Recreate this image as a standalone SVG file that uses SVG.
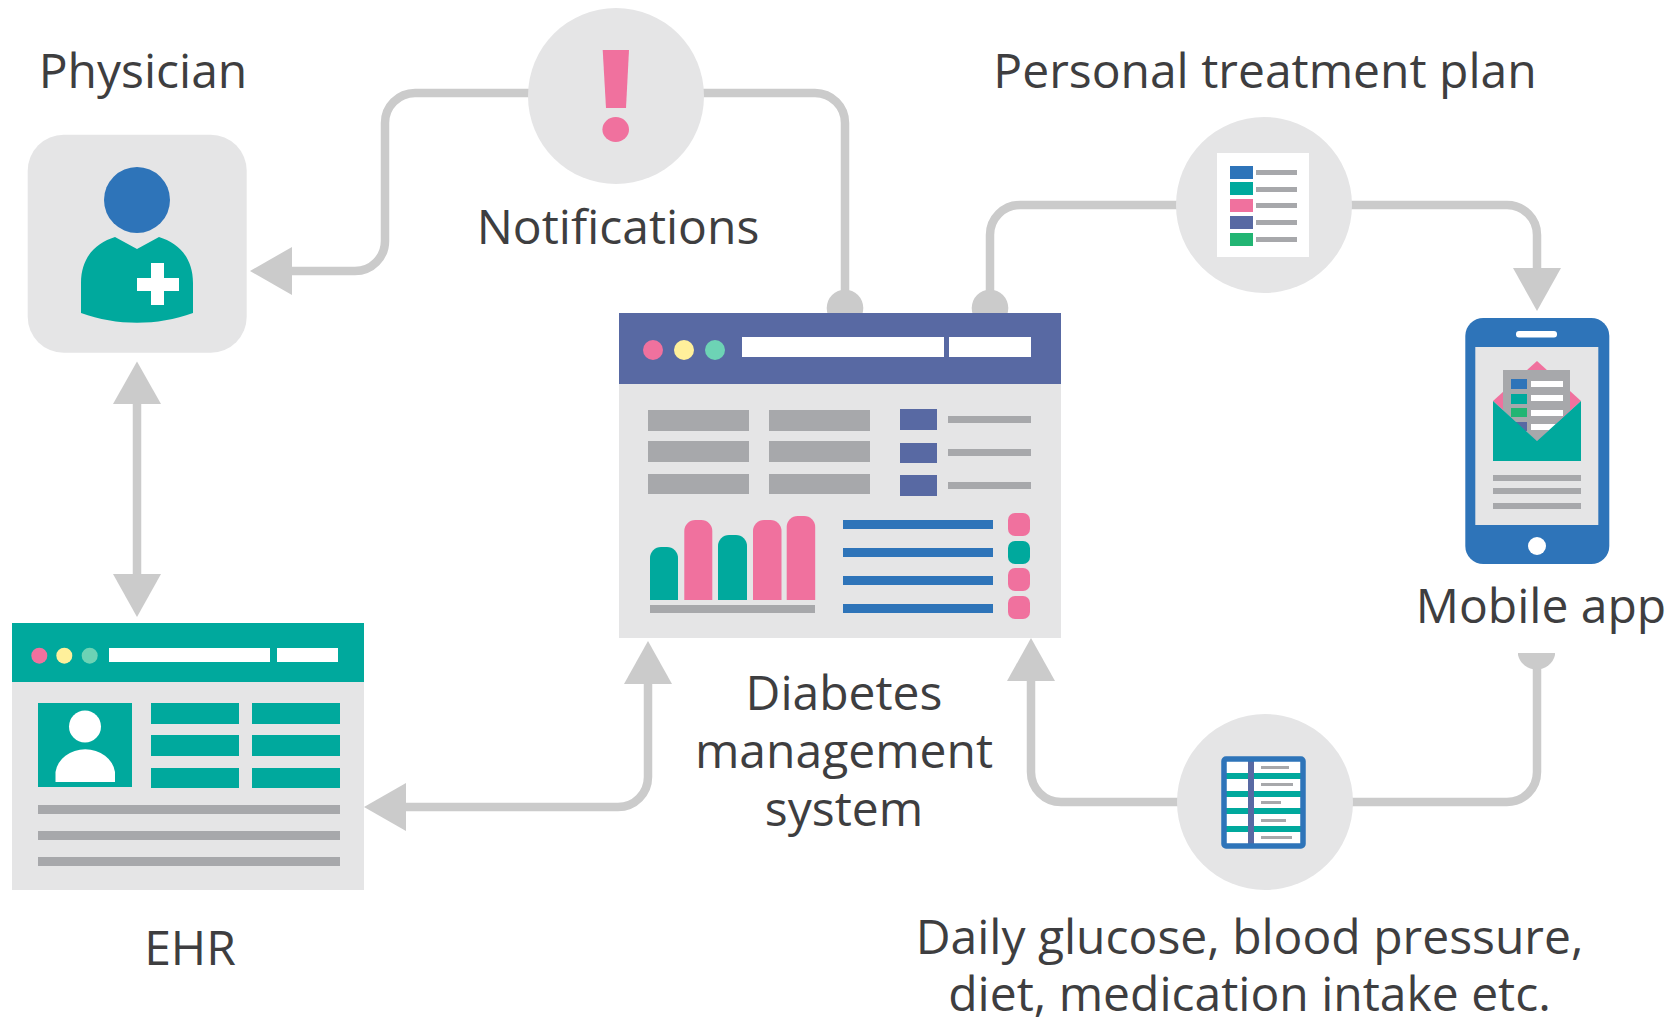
<svg xmlns="http://www.w3.org/2000/svg" width="1678" height="1018" viewBox="0 0 1678 1018">
<style>
.c{fill:none;stroke:#cbcbcb;stroke-width:8.500}
.a{fill:#cbcbcb}
.p{fill:#e5e5e6}
.g{fill:#a7a8ab}
.t{fill:#00a99d}
.b{fill:#2e74b9}
.v{fill:#5869a3}
.k{fill:#f0719e}
.y{fill:#fff09b}
.m{fill:#6dd3b5}
.w{fill:#fff}
.n{fill:#22b573}
text{font-family:"Open Sans","Noto Sans",sans-serif;font-size:48px;fill:#3e3e40;text-anchor:middle}
</style>
<rect width="1678" height="1018" fill="#fff"/>
<g id="connectors">
<path class="c" d="M292 271H355a30 30 0 0 0 30-30V123a30 30 0 0 1 30-30H815a30 30 0 0 1 30 30V300"/>
<circle class="a" cx="845" cy="308" r="18.300"/>
<path class="c" d="M990 300V235a30 30 0 0 1 30-30H1507a30 30 0 0 1 30 30V270"/>
<circle class="a" cx="990" cy="308" r="18.300"/>
<path class="a" d="M1537 311L1513 268H1561Z"/>
<path class="c" d="M137 400V578"/>
<path class="a" d="M137 361.500L113 404H161Z"/>
<path class="a" d="M137 617L113 574H161Z"/>
<path class="a" d="M250 271L292 247V295Z"/>
<path class="c" d="M404 807H618a30 30 0 0 0 30-30V682"/>
<path class="a" d="M364 807L406 783V831Z"/>
<path class="a" d="M648 641L624 684H672Z"/>
<path class="c" d="M1537 660V772a30 30 0 0 1-30 30H1061a30 30 0 0 1-30-30V678"/>
<path class="a" d="M1031 638L1007 681H1055Z"/>
<path class="a" d="M1518 653v2a19 19 0 0 0 37 0v-2Z"/>
</g>
<g id="physician">
<rect class="p" x="27.700" y="134.700" width="219" height="218" rx="36"/>
<circle class="b" cx="137" cy="200" r="33"/>
<path class="t" d="M115 237L137 249L159 237C178 243 193 257 193 283V313C157 326 117 326 81 313V283C81 257 96 243 115 237Z"/>
<path class="w" d="M151 263H164V278H179V291H164V305H151V291H137V278H151Z"/>
<text x="143" y="88">Physician</text>
</g>
<g id="notifications">
<circle class="p" cx="616" cy="96" r="88"/>
<path class="k" d="M602.700 50H629L626 108H606Z"/>
<ellipse class="k" cx="615.700" cy="129.500" rx="13.300" ry="12.500"/>
<text x="618" y="244">Notifications</text>
</g>
<g id="treatment-plan">
<circle class="p" cx="1264" cy="205" r="88"/>
<rect class="w" x="1217" y="153" width="92" height="104"/>
<rect class="b" x="1230" y="166" width="23" height="13"/>
<rect class="t" x="1230" y="182" width="23" height="13"/>
<rect class="k" x="1230" y="199" width="23" height="13"/>
<rect class="v" x="1230" y="216" width="23" height="13"/>
<rect class="n" x="1230" y="233" width="23" height="13"/>
<rect class="g" x="1256" y="170" width="41" height="5"/>
<rect class="g" x="1256" y="187" width="41" height="5"/>
<rect class="g" x="1256" y="203" width="41" height="5"/>
<rect class="g" x="1256" y="220" width="41" height="5"/>
<rect class="g" x="1256" y="237" width="41" height="5"/>
<text x="1265" y="88">Personal treatment plan</text>
</g>
<g id="mobile-app">
<rect class="b" x="1465.300" y="318" width="144" height="246" rx="18"/>
<rect class="w" x="1516" y="331" width="41" height="6.500" rx="3"/>
<rect class="p" x="1475.300" y="347" width="123" height="178"/>
<circle class="w" cx="1537" cy="546" r="9"/>
<path class="k" d="M1537 361L1581 401L1537 441L1493 401Z"/>
<path class="g" d="M1503 370H1570V410L1537 441L1503 410Z"/>
<rect class="b" x="1511" y="379" width="16" height="10"/>
<rect class="t" x="1511" y="394" width="16" height="10"/>
<rect class="n" x="1511" y="408" width="16" height="9"/>
<rect class="v" x="1511" y="422" width="16" height="9"/>
<rect class="w" x="1531" y="381" width="32" height="6"/>
<rect class="w" x="1531" y="395" width="32" height="6"/>
<rect class="w" x="1531" y="410" width="32" height="6"/>
<rect class="w" x="1531" y="424" width="25" height="6"/>
<path class="t" d="M1493 401L1537 441L1581 401V461H1493Z"/>
<rect class="g" x="1493" y="475" width="88" height="6"/>
<rect class="g" x="1493" y="488" width="88" height="6"/>
<rect class="g" x="1493" y="503" width="88" height="6"/>
<text x="1541" y="623">Mobile app</text>
</g>
<g id="diabetes-system">
<rect class="p" x="619" y="313" width="442" height="325"/>
<rect class="v" x="619" y="313" width="442" height="71"/>
<circle class="k" cx="653" cy="350" r="10"/>
<circle class="y" cx="684" cy="350" r="10"/>
<circle class="m" cx="715" cy="350" r="10"/>
<rect class="w" x="742" y="337" width="202" height="20"/>
<rect class="w" x="949" y="337" width="82" height="20"/>
<rect class="g" x="648" y="410" width="101" height="21"/>
<rect class="g" x="769" y="410" width="101" height="21"/>
<rect class="g" x="648" y="441" width="101" height="21"/>
<rect class="g" x="769" y="441" width="101" height="21"/>
<rect class="g" x="648" y="474" width="101" height="20"/>
<rect class="g" x="769" y="474" width="101" height="20"/>
<rect class="v" x="900" y="409" width="37" height="21"/>
<rect class="v" x="900" y="443" width="37" height="20"/>
<rect class="v" x="900" y="475" width="37" height="21"/>
<rect class="g" x="948" y="416" width="83" height="7"/>
<rect class="g" x="948" y="449" width="83" height="7"/>
<rect class="g" x="948" y="482" width="83" height="7"/>
<path class="t" d="M650 600V558a11 11 0 0 1 11-11h6a11 11 0 0 1 11 11V600Z"/>
<path class="k" d="M684.300 600V531a11 11 0 0 1 11-11h6a11 11 0 0 1 11 11V600Z"/>
<path class="t" d="M718 600V546a11 11 0 0 1 11-11h7a11 11 0 0 1 11 11V600Z"/>
<path class="k" d="M753 600V531a11 11 0 0 1 11-11h6.500a11 11 0 0 1 11 11V600Z"/>
<path class="k" d="M786.700 600V527a11 11 0 0 1 11-11h6.500a11 11 0 0 1 11 11V600Z"/>
<rect class="g" x="650" y="605" width="165" height="8"/>
<rect class="b" x="843" y="520" width="150" height="9"/>
<rect class="b" x="843" y="548" width="150" height="9"/>
<rect class="b" x="843" y="576" width="150" height="9"/>
<rect class="b" x="843" y="604" width="150" height="9"/>
<rect class="k" x="1008" y="513" width="22" height="23" rx="7"/>
<rect class="t" x="1008" y="541" width="22" height="23" rx="7"/>
<rect class="k" x="1008" y="568" width="22" height="23" rx="7"/>
<rect class="k" x="1008" y="596" width="22" height="23" rx="7"/>
<text x="844" y="710">Diabetes</text>
<text x="844" y="768">management</text>
<text x="844" y="826">system</text>
</g>
<g id="ehr">
<rect class="p" x="12" y="623" width="352" height="267"/>
<rect class="t" x="12" y="623" width="352" height="59"/>
<circle class="k" cx="39.300" cy="655.700" r="8"/>
<circle class="y" cx="64.300" cy="655.700" r="8"/>
<circle class="m" cx="89.700" cy="655.700" r="8"/>
<rect class="w" x="109" y="648" width="161" height="14"/>
<rect class="w" x="277" y="648" width="61" height="14"/>
<rect class="t" x="38" y="703" width="94" height="84"/>
<circle class="w" cx="85" cy="726.500" r="16"/>
<path class="w" d="M55.500 782V772a30 26 0 0 1 59.500 0V782Z"/>
<rect class="t" x="151" y="703" width="88" height="21"/>
<rect class="t" x="252" y="703" width="88" height="21"/>
<rect class="t" x="151" y="735" width="88" height="21"/>
<rect class="t" x="252" y="735" width="88" height="21"/>
<rect class="t" x="151" y="768" width="88" height="20"/>
<rect class="t" x="252" y="768" width="88" height="20"/>
<rect class="g" x="38" y="805" width="302" height="9"/>
<rect class="g" x="38" y="831" width="302" height="9"/>
<rect class="g" x="38" y="857" width="302" height="9"/>
<text x="190" y="965">EHR</text>
</g>
<g id="daily-data">
<circle class="p" cx="1265" cy="802" r="88"/>
<rect class="w" x="1224" y="759" width="79" height="87"/>
<rect class="t" x="1224" y="773" width="79" height="6"/>
<rect class="t" x="1224" y="791" width="79" height="6"/>
<rect class="t" x="1224" y="808" width="79" height="6"/>
<rect class="t" x="1224" y="826" width="79" height="6"/>
<rect class="v" x="1248" y="759" width="6" height="87"/>
<rect class="g" x="1261" y="766" width="28" height="3"/>
<rect class="g" x="1261" y="783" width="32" height="3"/>
<rect class="g" x="1261" y="801" width="20" height="3"/>
<rect class="g" x="1261" y="819" width="25" height="3"/>
<rect class="g" x="1261" y="836" width="31" height="3"/>
<rect x="1224" y="759" width="79" height="87" rx="2" fill="none" stroke="#2e74b9" stroke-width="5.500"/>
<text x="1249.500" y="954">Daily glucose, blood pressure,</text>
<text x="1249.500" y="1011">diet, medication intake etc.</text>
</g>
</svg>
